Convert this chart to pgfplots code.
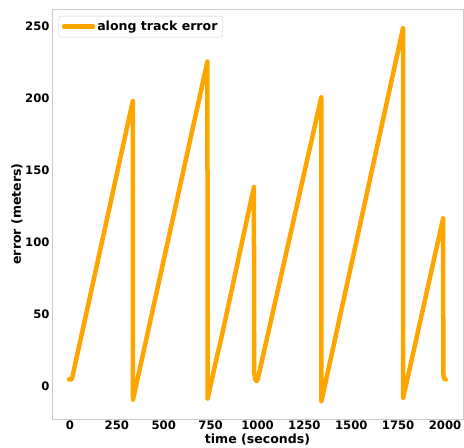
\documentclass[border=0pt]{standalone}
\usepackage{fontspec}
\setmainfont{DejaVu Sans}
\usepackage{pgfplots}
\pgfplotsset{compat=1.18}
\definecolor{mplorange}{HTML}{FFA500}
\definecolor{framegray}{HTML}{CCCCCC}
\begin{document}
\begin{tikzpicture}
\begin{axis}[
  at={(52bp,29bp)}, anchor=south west,
  scale only axis, width=411bp, height=410bp,
  xmin=-96, xmax=2096, ymin=-23, ymax=262,
  xtick={0,250,500,750,1000,1250,1500,1750,2000},
  ytick={0,50,100,150,200,250},
  major tick length=0pt,
  axis line style={framegray, line width=0.8bp},
  /pgf/number format/assume math mode=true,
  /pgf/number format/1000 sep={},
  ticklabel style={font=\fontsize{11.7}{14}\selectfont\bfseries},
  xticklabel style={yshift=1.5bp},
  yticklabel style={xshift=1bp},
  xlabel={time (seconds)},
  ylabel={error (meters)},
  label style={font=\fontsize{12.6}{15}\selectfont\bfseries},
  xlabel style={at={(axis description cs:0.5,0)}, anchor=north, inner sep=0pt, yshift=-14.5bp},
  ylabel style={at={(axis description cs:0,0.5)}, anchor=center, inner sep=0pt, yshift=35bp},
  legend style={at={(0.016,0.983)}, anchor=north west, draw=framegray, rounded corners=2bp,
    font=\fontsize{12.6}{15}\selectfont\bfseries, inner xsep=3bp, inner ysep=3bp},
  legend cell align=left,
  legend image code/.code={\draw[#1, line width=4.5bp] (0bp,0bp) -- (29bp,0bp);},
]
\addplot[mplorange, line width=4.5bp, line join=round, line cap=round] coordinates {
(-5,4.5) (8,4.5) (14,7) (335,198) (336,-9.5)
(733,225.5) (734,-8.8) (790,24) (800,29) (981,138.3) (982,9) (990,4) (996,3.3) (1002,5)
(1340,200.6) (1341,-10.6)
(1776,248.6) (1777,-8.3)
(1990,116.5) (1991,8) (1996,5) (2004,4.5)
};
\addlegendentry{along track error}
\end{axis}
\pgfresetboundingbox
\path (0,0) rectangle (464bp,448bp);
\end{tikzpicture}
\end{document}
